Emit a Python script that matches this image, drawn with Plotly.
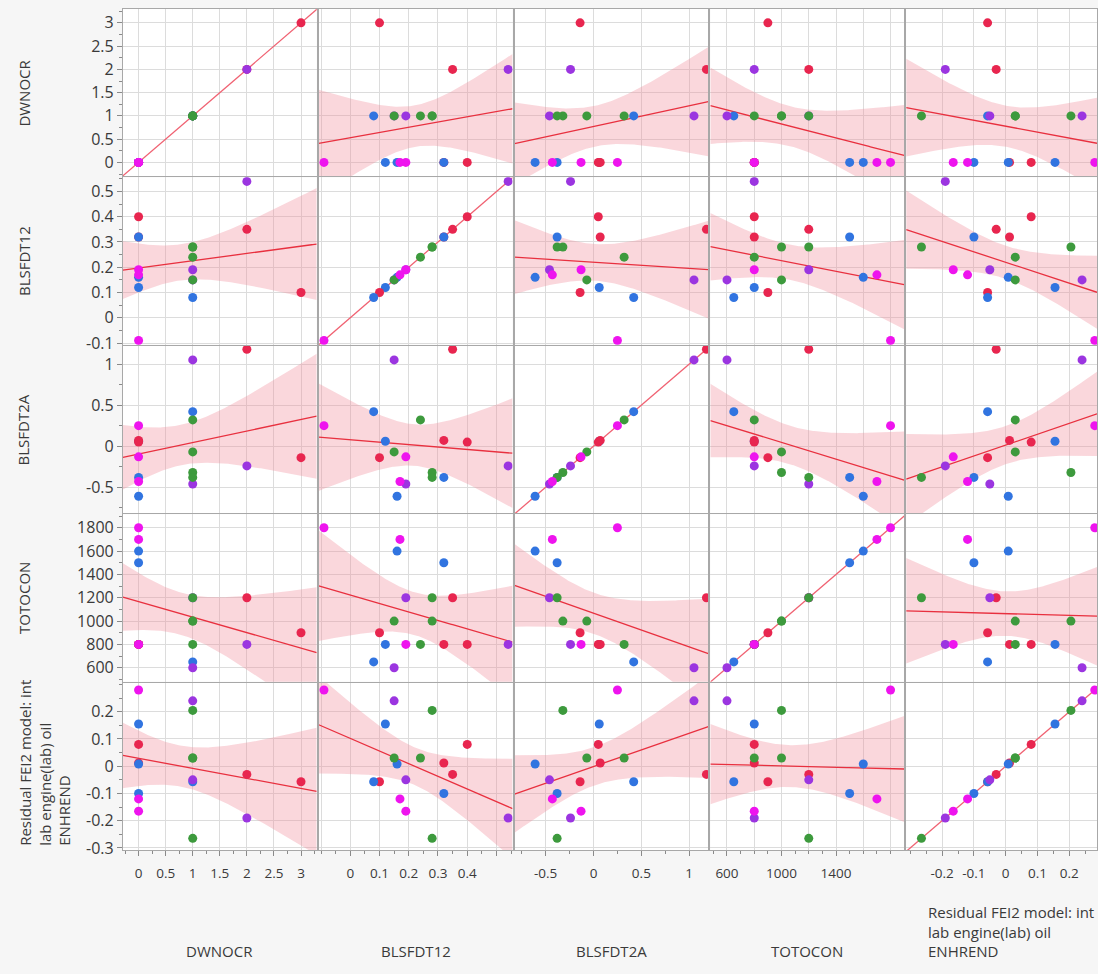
import numpy as np
import plotly.graph_objects as go

# ---------------- data (one row per observation) ----------------
point_group = ["blue", "red", "red", "red", "red", "blue", "blue", "blue",
               "purple", "purple", "purple", "green", "green", "green", "green",
               "magenta", "magenta", "magenta"]
DWNOCR = [0, 0, 0, 2, 3, 1, 0, 0, 2, 1, 1, 1, 1, 1, 1, 0, 0, 0]
BLSFDT12 = [0.12, 0.40, 0.32, 0.35, 0.10, 0.08, 0.32, 0.16,
            0.54, 0.15, 0.19, 0.24, 0.28, 0.15, 0.28, 0.19, 0.17, -0.09]
BLSFDT2A = [0.06, 0.05, 0.07, 1.18, -0.14, 0.42, -0.38, -0.61,
            -0.24, 1.05, -0.46, 0.32, -0.32, -0.07, -0.38, -0.13, -0.43, 0.25]
TOTOCON = [800, 800, 800, 1200, 900, 650, 1500, 1600,
           800, 600, 1200, 800, 1000, 1000, 1200, 800, 1700, 1800]
RESIDUAL = [0.155, 0.08, 0.012, -0.03, -0.057, -0.057, -0.10, 0.008,
            -0.19, 0.24, -0.05, 0.03, 0.205, 0.03, -0.265, -0.165, -0.12, 0.28]

var_names = ["DWNOCR", "BLSFDT12", "BLSFDT2A", "TOTOCON",
             "Residual FEI2 model: int<br>lab engine(lab) oil<br>ENHREND"]
variables = [DWNOCR, BLSFDT12, BLSFDT2A, TOTOCON, RESIDUAL]

# tick values / labels
DWNOCR_ticks = [0, 0.5, 1, 1.5, 2, 2.5, 3]
DWNOCR_xlabels = ["0", "0.5", "1", "1.5", "2", "2.5", "3"]
DWNOCR_ylabels = ["0", "0.5", "1", "1.5", "2", "2.5", "3"]
BLSFDT12_ticks = [-0.1, 0, 0.1, 0.2, 0.3, 0.4, 0.5]
BLSFDT12_xlabels = ["", "0", "0.1", "0.2", "0.3", "0.4", ""]
BLSFDT12_ylabels = ["-0.1", "0", "0.1", "0.2", "0.3", "0.4", "0.5"]
BLSFDT2A_ticks = [-0.5, 0, 0.5, 1]
BLSFDT2A_xlabels = ["-0.5", "0", "0.5", "1"]
BLSFDT2A_ylabels = ["-0.5", "0", "0.5", "1"]
TOTOCON_ticks = [600, 800, 1000, 1200, 1400, 1600, 1800]
TOTOCON_xlabels = ["600", "", "1000", "", "1400", "", ""]
TOTOCON_ylabels = ["600", "800", "1000", "1200", "1400", "1600", "1800"]
RESIDUAL_xticks = [-0.2, -0.1, 0, 0.1, 0.2]
RESIDUAL_xlabels = ["-0.2", "-0.1", "0", "0.1", "0.2"]
RESIDUAL_yticks = [-0.3, -0.2, -0.1, 0, 0.1, 0.2]
RESIDUAL_ylabels = ["-0.3", "-0.2", "-0.1", "0", "0.1", "0.2"]

x_ticks = [(DWNOCR_ticks, DWNOCR_xlabels), (BLSFDT12_ticks, BLSFDT12_xlabels),
           (BLSFDT2A_ticks, BLSFDT2A_xlabels), (TOTOCON_ticks, TOTOCON_xlabels),
           (RESIDUAL_xticks, RESIDUAL_xlabels)]
y_ticks = [(DWNOCR_ticks, DWNOCR_ylabels), (BLSFDT12_ticks, BLSFDT12_ylabels),
           (BLSFDT2A_ticks, BLSFDT2A_ylabels), (TOTOCON_ticks, TOTOCON_ylabels),
           (RESIDUAL_yticks, RESIDUAL_ylabels)]
minor_step = [0.25, 0.05, 0.25, 100, 0.05]

# ---------------- styling / layout geometry ----------------
W, H = 1098, 974
col_left = [123, 319, 515, 711, 907]
col_right = [317, 513, 709, 905, 1098]
row_top = [9, 179, 349, 519, 689]
row_bot = [178, 348, 518, 688, 858]
x_ranges = [[-0.29, 3.29], [-0.108, 0.555], [-0.825, 1.2], [478, 1900], [-0.313, 0.287]]
y_ranges = [[-0.30, 3.30], [-0.107, 0.556], [-0.816, 1.222], [481, 1916], [-0.308, 0.307]]

GROUP_COLORS = {"red": "#e8264f", "blue": "#3174e0", "green": "#3d9a3d",
                "purple": "#9b35e0", "magenta": "#ee14ee"}
FIT_COLOR = "#e8303f"
DIAG_COLOR = "#f06272"
BAND_COLOR = "rgba(240,140,155,0.35)"
GRID = "#dcdcdc"
FRAME = "#a8a8a8"
TICKC = "#8a8a8a"
FONT = "Open Sans, sans-serif"
TXT = "#3a3a3a"
T975 = 2.1199  # Student t quantile, df = 16

marker_colors = [GROUP_COLORS[g] for g in point_group]

fig = go.Figure()
for i in range(5):
    for j in range(5):
        k = i * 5 + j + 1
        xa = "x" if k == 1 else f"x{k}"
        ya = "y" if k == 1 else f"y{k}"
        x = np.array(variables[j], dtype=float)
        y = np.array(variables[i], dtype=float)
        if i == j:
            lo = min(x_ranges[j][0], y_ranges[i][0])
            hi = max(x_ranges[j][1], y_ranges[i][1])
            fig.add_trace(go.Scatter(x=[lo, hi], y=[lo, hi], mode="lines",
                                     line=dict(color=DIAG_COLOR, width=1.3),
                                     xaxis=xa, yaxis=ya, hoverinfo="skip"))
        else:
            n = len(x)
            xm, ym = x.mean(), y.mean()
            sxx = ((x - xm) ** 2).sum()
            b = ((x - xm) * (y - ym)).sum() / sxx
            a = ym - b * xm
            s = np.sqrt(((y - (a + b * x)) ** 2).sum() / (n - 2))
            xs = np.linspace(x_ranges[j][0], x_ranges[j][1], 150)
            yh = a + b * xs
            se = s * np.sqrt(1.0 / n + (xs - xm) ** 2 / sxx)
            up, lo = yh + T975 * se, yh - T975 * se
            fig.add_trace(go.Scatter(x=np.concatenate([xs, xs[::-1]]),
                                     y=np.concatenate([up, lo[::-1]]),
                                     fill="toself", fillcolor=BAND_COLOR,
                                     line=dict(width=0), mode="lines",
                                     xaxis=xa, yaxis=ya, hoverinfo="skip"))
            fig.add_trace(go.Scatter(x=xs, y=yh, mode="lines",
                                     line=dict(color=FIT_COLOR, width=1.3),
                                     xaxis=xa, yaxis=ya, hoverinfo="skip"))
        fig.add_trace(go.Scatter(x=x, y=y, mode="markers",
                                 marker=dict(size=9, color=marker_colors, line=dict(width=0)),
                                 xaxis=xa, yaxis=ya, cliponaxis=True))

layout = dict(width=W, height=H, margin=dict(l=0, r=0, t=0, b=0),
              paper_bgcolor="#f6f6f6", plot_bgcolor="white", showlegend=False,
              font=dict(family=FONT, color=TXT))

for i in range(5):
    for j in range(5):
        k = i * 5 + j + 1
        kx = "xaxis" if k == 1 else f"xaxis{k}"
        ky = "yaxis" if k == 1 else f"yaxis{k}"
        xr, yr = x_ranges[j], y_ranges[i]
        xminor = np.arange(np.ceil(xr[0] / minor_step[j]) * minor_step[j], xr[1], minor_step[j])
        yminor = np.arange(np.ceil(yr[0] / minor_step[i]) * minor_step[i], yr[1], minor_step[i])
        bottom = (i == 4)
        left = (j == 0)
        layout[kx] = dict(
            domain=[col_left[j] / W, col_right[j] / W],
            anchor="y" if k == 1 else f"y{k}",
            range=xr, tickmode="array", tickvals=x_ticks[j][0], ticktext=x_ticks[j][1],
            showgrid=True, gridcolor=GRID, gridwidth=1, zeroline=False,
            showline=True, mirror=True, linecolor=FRAME, linewidth=1,
            ticks="outside" if bottom else "", ticklen=5, tickcolor=TICKC,
            showticklabels=bottom, tickfont=dict(size=13.5, color=TXT, family=FONT),
            ticklabelstandoff=6,
            minor=dict(tickmode="array", tickvals=list(xminor), ticks="outside" if bottom else "",
                       ticklen=3, tickcolor=TICKC, showgrid=False),
        )
        layout[ky] = dict(
            domain=[1 - row_bot[i] / H, 1 - row_top[i] / H],
            anchor="x" if k == 1 else f"x{k}",
            range=yr, tickmode="array", tickvals=y_ticks[i][0], ticktext=y_ticks[i][1],
            showgrid=True, gridcolor=GRID, gridwidth=1, zeroline=False,
            showline=True, mirror=True, linecolor=FRAME, linewidth=1,
            ticks="outside" if left else "", ticklen=5, tickcolor=TICKC,
            showticklabels=left, tickfont=dict(size=16, color=TXT, family=FONT),
            minor=dict(tickmode="array", tickvals=list(yminor), ticks="outside" if left else "",
                       ticklen=3, tickcolor=TICKC, showgrid=False),
        )

TITLE_SIZE = 15
annotations = []
# row titles (rotated)
for i in range(4):
    annotations.append(dict(text=var_names[i], x=24 / W, y=1 - (row_top[i] + row_bot[i]) / 2 / H,
                            xref="paper", yref="paper", textangle=-90, showarrow=False,
                            xanchor="center", yanchor="middle",
                            font=dict(size=TITLE_SIZE, color=TXT, family=FONT)))
annotations.append(dict(text=var_names[4], x=45 / W, y=1 - 770 / H, xref="paper", yref="paper",
                        textangle=-90, showarrow=False, align="left",
                        xanchor="center", yanchor="middle",
                        font=dict(size=TITLE_SIZE, color=TXT, family=FONT)))
# column titles
for j in range(4):
    annotations.append(dict(text=var_names[j], x=(col_left[j] + col_right[j]) / 2 / W, y=1 - 960 / H,
                            xref="paper", yref="paper", showarrow=False,
                            xanchor="center", yanchor="middle",
                            font=dict(size=TITLE_SIZE, color=TXT, family=FONT)))
annotations.append(dict(text=var_names[4], x=1012 / W, y=1 - 940 / H, xref="paper", yref="paper",
                        showarrow=False, align="left", xanchor="center", yanchor="middle",
                        font=dict(size=TITLE_SIZE, color=TXT, family=FONT)))
layout["annotations"] = annotations

fig.update_layout(**layout)
fig.write_html("out.html")
